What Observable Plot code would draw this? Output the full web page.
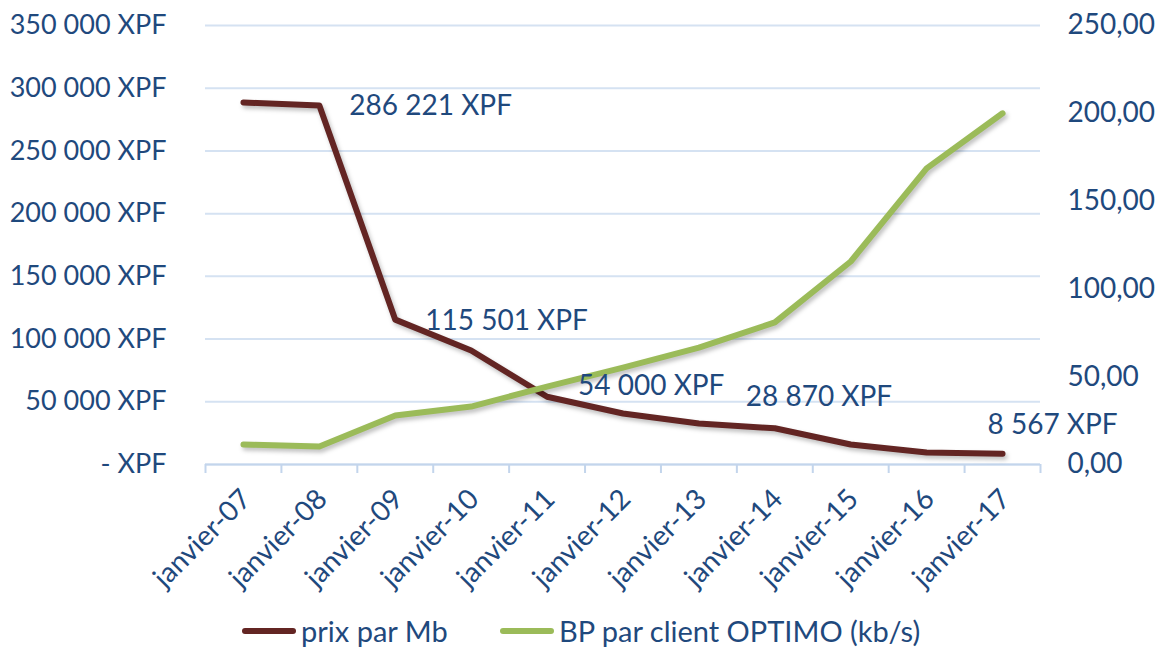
<!DOCTYPE html>
<html>
<head>
<meta charset="utf-8">
<script src="https://cdn.jsdelivr.net/npm/d3@7"></script>
<script src="https://cdn.jsdelivr.net/npm/@observablehq/plot@0.6"></script>
<style>
  html, body { margin: 0; padding: 0; background: #fff; overflow: hidden; }
  #wrap { position: relative; width: 1160px; height: 650px; overflow: hidden; font-family: Lato, sans-serif; }
  #legend { position: absolute; left: 0; top: 610px; width: 1160px; height: 40px; color: #1f497d; font-size: 29px; line-height: 34px; white-space: nowrap; }
  .item { position: absolute; top: 4px; display: flex; align-items: center; }
  .sw { display: inline-block; width: 54px; height: 6px; border-radius: 3px; margin-right: 5px; }
  g[aria-label="line"] { filter: drop-shadow(2px 3px 2px rgba(0,0,0,0.25)); }
</style>
</head>
<body>
<div id="wrap"><div id="chart"></div>
<div id="legend">
  <div class="item" style="left:242px"><span class="sw" style="background:#632523"></span><span>prix par Mb</span></div>
  <div class="item" style="left:500px"><span class="sw" style="background:#9bbb59"></span><span>BP par client OPTIMO (kb/s)</span></div>
</div>
</div>
<script>
const dates = ["janvier-07","janvier-08","janvier-09","janvier-10","janvier-11","janvier-12","janvier-13","janvier-14","janvier-15","janvier-16","janvier-17"];
const prix = [288600, 286221, 115501, 90900, 54000, 40700, 32700, 28870, 15900, 9600, 8567];
const bp = [11.4, 10.2, 27.9, 33.0, 44.4, 55.2, 66.6, 80.9, 115.6, 168.6, 200.0];
const leftTicks = [0, 50000, 100000, 150000, 200000, 250000, 300000, 350000];
const rightTicks = [0, 50, 100, 150, 200, 250];
const labelGroupA = [1, 2];
const labelGroupB = [4];
const labelGroupC = [7];
const labelGroupD = [10];

const leftMax = 350000, rightMax = 250;
const k = leftMax / rightMax;
const idx = dates.map((d, i) => i);
const textColor = "#1f497d";
const fmtXPF = d => d === 0 ? "- XPF" : d3.format(",")(d).replace(/,/g, " ") + " XPF";
const fmtR = d => d.toFixed(2).replace(".", ",");

const labelMark = (arr, dx, dy) => Plot.text(arr, {
  x: i => i, y: i => prix[i], text: i => fmtXPF(prix[i]),
  textAnchor: "start", dx, dy, fill: textColor, fontSize: 28
});

const chart = Plot.plot({
  width: 1160,
  height: 610,
  marginLeft: 205,
  marginRight: 120,
  marginTop: 25,
  marginBottom: 146,
  style: { fontFamily: "Lato, sans-serif", fontSize: "28px", color: textColor, background: "#fff" },
  x: { type: "linear", domain: [-0.5, dates.length - 0.5], axis: null },
  y: { domain: [0, leftMax], axis: null },
  marks: [
    Plot.gridY(leftTicks, { stroke: "#d5e2f2", strokeOpacity: 1, strokeWidth: 2 }),
    Plot.axisY(leftTicks, { anchor: "left", tickSize: 0, tickPadding: 39, tickFormat: fmtXPF, fill: textColor, fontSize: 27 }),
    Plot.axisY(rightTicks.map(v => v * k), { anchor: "right", tickSize: 0, tickPadding: 27, tickFormat: d => fmtR(d / k), fill: textColor, fontSize: 28 }),
    Plot.ruleY([0], { stroke: "#c3d5ec", strokeWidth: 2 }),
    Plot.axisX(d3.range(-0.5, dates.length, 1), { tickSize: 9, tickFormat: () => "", stroke: "#c3d5ec", strokeWidth: 2 }),
    Plot.axisX(idx, { tickSize: 0, tickPadding: 30, tickRotate: -45, tickFormat: i => dates[i], fill: textColor, fontSize: 28, dx: 3 }),
    Plot.line(idx, { x: i => i, y: i => prix[i], stroke: "#632523", strokeWidth: 6, strokeLinejoin: "round", strokeLinecap: "round" }),
    Plot.line(idx, { x: i => i, y: i => bp[i] * k, stroke: "#9bbb59", strokeWidth: 6, strokeLinejoin: "round", strokeLinecap: "round" }),
    labelMark(labelGroupA, 30, 1),
    labelMark(labelGroupB, 31, -11),
    labelMark(labelGroupC, -29, -31),
    labelMark(labelGroupD, -15, -29)
  ]
});
document.getElementById("chart").appendChild(chart);
</script>
</body>
</html>
